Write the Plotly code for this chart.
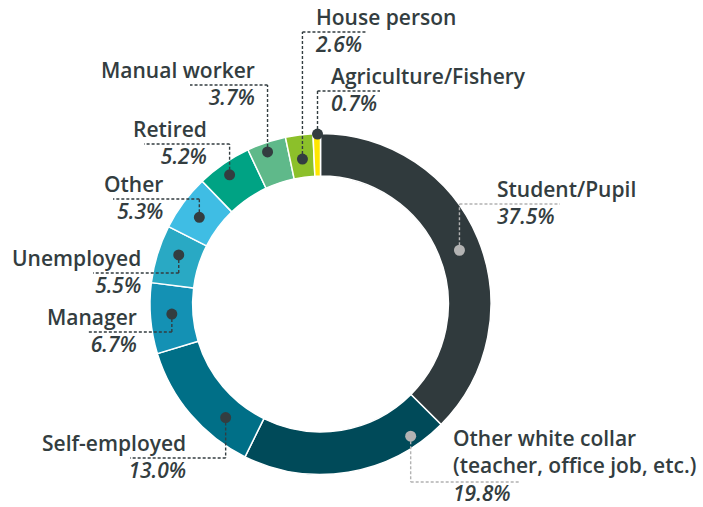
import math
import plotly.graph_objects as go

# ---- data ----
categories = ["Student/Pupil", "Other white collar", "Self-employed", "Manager",
              "Unemployed", "Other", "Retired", "Manual worker", "House person",
              "Agriculture/Fishery"]
label_text = ["Student/Pupil", "Other white collar<br>(teacher, office job, etc.)",
              "Self-employed", "Manager", "Unemployed", "Other", "Retired",
              "Manual worker", "House person", "Agriculture/Fishery"]
shares = [37.5, 19.8, 13.0, 6.7, 5.5, 5.3, 5.2, 3.7, 2.6, 0.7]
colors = ["#303a3d", "#004a59", "#006f87", "#1491b4", "#29a9c4",
          "#3fbde4", "#00a384", "#5fb98a", "#8cc02a", "#ffe600"]

# ---- layout / styling (pixel geometry) ----
W, H = 703, 507
CX, CY, R_OUT = 320.5, 304.0, 170.5
HOLE = 0.75
TEXT = "#333d40"
FONT = "Open Sans"
FS = 21
LH = FS * 1.3

# per-label callout styling: anchor fraction in slice, dot radius, side,
# connector y, horizontal end x, text x, dot/line colour
callout = {
    "Student/Pupil":       dict(f=0.51, r=149, side="R", ly=204, ex=560, tx=496, c="#b3b3b3"),
    "Other white collar":  dict(f=0.15, r=160, side="R", ly=482, ex=520, tx=452, c="#b3b3b3"),
    "Self-employed":       dict(f=0.29, r=148, side="L", ly=458, ex=130, tx=187, c=TEXT),
    "Manager":             dict(f=0.54, r=149, side="L", ly=332, ex=87,  tx=138, c=TEXT),
    "Unemployed":          dict(f=0.6,  r=150, side="L", ly=273, ex=93,  tx=142, c=TEXT),
    "Other":               dict(f=0.45, r=149, side="L", ly=199, ex=113, tx=164, c=TEXT),
    "Retired":             dict(f=0.47, r=158, side="L", ly=144, ex=144, tx=208, c=TEXT),
    "Manual worker":       dict(f=0.45, r=161, side="L", ly=85,  ex=190, tx=256, c=TEXT),
    "House person":        dict(f=0.51, r=146, side="R", ly=32,  ex=366, tx=314, c=TEXT),
    "Agriculture/Fishery": dict(f=0.6,  r=170, side="R", ly=91,  ex=380, tx=330, c=TEXT),
}

fig = go.Figure()

fig.add_trace(go.Pie(
    values=shares, labels=categories, sort=False, direction="clockwise",
    rotation=0, hole=HOLE, textinfo="none", hoverinfo="none", showlegend=False,
    marker=dict(colors=colors, line=dict(color="white", width=1.5)),
    domain=dict(x=[(CX - R_OUT) / W, (CX + R_OUT) / W],
                y=[(H - CY - R_OUT) / H, (H - CY + R_OUT) / H]),
))

# invisible scatter to establish the pixel-space axes
fig.add_trace(go.Scatter(x=[0, W], y=[0, H], mode="markers",
                         marker=dict(opacity=0), hoverinfo="skip", showlegend=False))

shapes = []
annotations = []
total = sum(shares)
cum = 0.0
for cat, lab, val in zip(categories, label_text, shares):
    s = callout[cat]
    frac = (cum + s["f"] * val) / total
    cum += val
    th = 2 * math.pi * frac
    dx = CX + s["r"] * math.sin(th)
    dy = CY - s["r"] * math.cos(th)
    dash = dict(color=s["c"], width=1.4, dash="3px,2px")
    shapes.append(dict(type="line", xref="x", yref="y", x0=dx, y0=dy, x1=dx, y1=s["ly"],
                       line=dash, layer="above"))
    shapes.append(dict(type="line", xref="x", yref="y", x0=dx, y0=s["ly"], x1=s["ex"], y1=s["ly"],
                       line=dash, layer="above"))
    rr = 5.5
    shapes.append(dict(type="circle", xref="x", yref="y", x0=dx - rr, x1=dx + rr,
                       y0=dy - rr, y1=dy + rr, fillcolor=s["c"], line=dict(width=0),
                       layer="above"))
    anchor = "left" if s["side"] == "R" else "right"
    n = lab.count("<br>") + 2
    yc = s["ly"] + 12 - (n - 1) * LH / 2
    yc = min(yc, H - 1 - n * LH / 2)
    annotations.append(dict(x=s["tx"], y=yc, xref="x", yref="y",
                            text=f"{lab}<br><i>{val:.1f}%</i>",
                            showarrow=False, xanchor=anchor, yanchor="middle",
                            align=anchor, borderpad=0,
                            font=dict(family=FONT, size=FS, color=TEXT, weight=600)))

fig.update_layout(
    width=W, height=H, margin=dict(l=0, r=0, t=0, b=0),
    paper_bgcolor="white", plot_bgcolor="rgba(0,0,0,0)",
    xaxis=dict(range=[0, W], visible=False, fixedrange=True, domain=[0, 1]),
    yaxis=dict(range=[H, 0], visible=False, fixedrange=True, domain=[0, 1]),
    shapes=shapes, annotations=annotations,
)

fig.write_html("out.html", config={"displayModeBar": False},
               post_script="document.body.style.margin='0';document.body.style.overflow='hidden';")
